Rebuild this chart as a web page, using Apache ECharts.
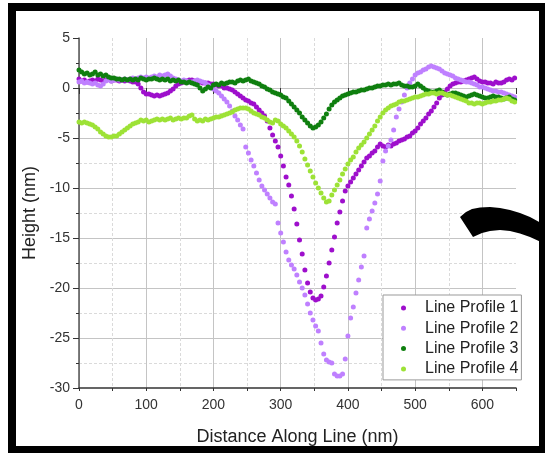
<!DOCTYPE html>
<html><head><meta charset="utf-8">
<script src="https://cdn.jsdelivr.net/npm/echarts@6/dist/echarts.min.js"></script>
<style>html,body{margin:0;padding:0;background:#fff}#c{width:545px;height:453px}</style>
</head><body><div id="c"></div>
<script>
// Distance along line (nm)
const distance = [0,4,8,12,16,20,24,28,32,36,40,44,48,52,56,60,64,68,72,76,80,84,88,92,96,100,104,108,112,116,120,124,128,132,136,140,144,148,152,156,160,164,168,172,176,180,184,188,192,196,200,204,208,212,216,220,224,228,232,236,240,244,248,252,256,260,264,268,272,276,280,284,288,292,296,300,304,308,312,316,320,324,328,332,336,340,344,348,352,356,360,364,368,372,376,380,384,388,392,396,400,404,408,412,416,420,424,428,432,436,440,444,448,452,456,460,464,468,472,476,480,484,488,492,496,500,504,508,512,516,520,524,528,532,536,540,544,548,552,556,560,564,568,572,576,580,584,588,592,596,600,604,608,612,616,620,624,628,632,636,640,644,648];

const profile1 = [0.9,0.7,0.8,0.6,0.7,0.8,0.7,0.9,0.8,0.7,0.8,0.9,0.7,0.8,0.8,0.7,0.8,0.7,0.8,0.7,0.6,0.6,0.4,0.0,-0.4,-0.6,-0.6,-0.7,-0.8,-0.7,-0.8,-0.7,-0.6,-0.5,-0.3,-0.1,0.2,0.4,0.5,0.6,0.7,0.8,0.8,0.7,0.6,0.6,0.5,0.5,0.5,0.4,0.4,0.3,0.2,0.2,0.0,0.0,-0.1,-0.2,-0.4,-0.6,-0.8,-1.0,-1.2,-1.3,-1.5,-1.6,-1.9,-2.2,-2.5,-2.8,-3.3,-4.0,-4.7,-5.3,-5.9,-6.8,-7.8,-8.9,-9.7,-10.8,-12.1,-13.6,-15.2,-16.6,-18.2,-19.5,-20.4,-21.0,-21.2,-21.1,-20.8,-19.9,-18.8,-17.5,-16.2,-14.9,-13.5,-12.4,-11.3,-10.3,-9.8,-9.4,-9.0,-8.6,-8.2,-7.8,-7.4,-7.0,-6.8,-6.5,-6.3,-5.9,-5.6,-5.8,-5.9,-5.7,-5.8,-5.6,-5.5,-5.3,-5.2,-5.1,-4.9,-4.8,-4.5,-4.3,-4.0,-3.6,-3.3,-3.0,-2.6,-2.3,-1.9,-1.5,-1.0,-0.7,-0.4,-0.1,0.2,0.4,0.5,0.6,0.6,0.7,0.8,0.9,1.0,1.1,0.9,0.7,0.6,0.6,0.5,0.5,0.4,0.6,0.5,0.5,0.6,0.8,0.9,0.8,1.0];

const profile2 = [0.6,0.7,0.5,0.6,0.5,0.4,0.5,0.3,0.2,0.4,0.7,0.8,0.7,0.8,0.9,0.8,0.8,0.9,0.8,0.9,1.0,0.9,1.0,1.1,1.0,1.1,1.0,1.1,1.2,1.1,1.3,1.2,1.3,1.4,1.2,1.0,0.9,0.8,0.7,0.8,0.7,0.6,0.6,0.7,0.8,0.7,0.6,0.5,0.3,0.1,-0.1,-0.3,-0.5,-0.8,-1.1,-1.4,-1.8,-2.3,-2.8,-3.2,-3.7,-4.1,-5.9,-6.5,-7.2,-7.8,-8.5,-9.2,-9.8,-10.2,-10.6,-11.0,-11.4,-11.6,-13.5,-14.5,-15.4,-16.4,-17.2,-17.7,-18.1,-18.7,-19.4,-20.0,-20.7,-21.6,-22.5,-23.2,-23.8,-24.3,-25.5,-26.6,-27.2,-27.4,-27.5,-28.6,-28.8,-28.8,-28.6,-27.1,-24.8,-23.0,-21.9,-20.5,-19.2,-17.9,-16.8,-14.0,-13.1,-12.3,-11.5,-10.6,-9.3,-7.3,-6.3,-5.8,-5.2,-4.2,-2.9,-2.1,-1.4,-0.7,0.0,0.5,0.9,1.3,1.5,1.6,1.8,1.9,2.1,2.2,2.1,2.0,1.9,1.7,1.5,1.4,1.3,1.2,1.0,0.9,0.8,0.7,0.6,0.6,0.5,0.4,0.3,0.1,0.1,0.0,-0.1,-0.2,-0.3,-0.3,-0.4,-0.4,-0.5,-0.6,-0.7,-0.8,-0.9];

const profile3 = [1.8,1.6,1.4,1.5,1.3,1.4,1.6,1.3,1.4,1.2,1.3,1.1,1.0,1.0,0.9,0.9,0.8,0.9,0.8,0.9,0.8,0.9,0.8,1.0,0.9,0.8,0.9,0.9,1.0,0.9,0.8,0.9,0.8,0.9,0.7,0.8,0.7,0.8,0.6,0.6,0.5,0.6,0.5,0.4,0.3,0.0,-0.3,-0.1,0.1,0.0,0.3,0.4,0.3,0.5,0.4,0.5,0.6,0.6,0.5,0.7,0.8,0.7,0.8,0.9,0.7,0.6,0.5,0.4,0.2,0.1,-0.1,-0.2,-0.4,-0.5,-0.6,-0.7,-0.9,-1.0,-1.3,-1.6,-1.9,-2.2,-2.5,-2.9,-3.2,-3.5,-3.8,-4.0,-3.9,-3.7,-3.4,-3.0,-2.6,-2.1,-1.7,-1.4,-1.2,-1.0,-0.8,-0.7,-0.6,-0.5,-0.4,-0.4,-0.3,-0.2,-0.2,-0.1,0.0,0.0,0.1,0.2,0.2,0.3,0.3,0.4,0.3,0.4,0.4,0.5,0.3,0.2,0.2,0.1,0.1,0.2,0.4,0.2,0.0,-0.2,-0.3,-0.4,-0.4,-0.3,-0.2,-0.4,-0.6,-0.7,-0.6,-0.5,-0.5,-0.6,-0.7,-0.8,-0.9,-0.8,-0.7,-0.6,-0.7,-0.8,-0.9,-1.0,-1.0,-0.9,-0.8,-0.9,-0.9,-1.0,-1.1,-1.0,-0.9,-1.1,-1.2];

const profile4 = [-3.4,-3.5,-3.4,-3.5,-3.6,-3.7,-3.9,-4.1,-4.4,-4.6,-4.8,-4.9,-4.9,-4.8,-4.8,-4.6,-4.4,-4.2,-4.0,-3.8,-3.6,-3.5,-3.4,-3.2,-3.3,-3.2,-3.4,-3.3,-3.2,-3.1,-3.2,-3.1,-3.2,-3.1,-3.0,-3.2,-3.1,-3.0,-3.1,-3.0,-3.0,-2.8,-2.7,-3.1,-3.3,-3.2,-3.3,-3.1,-3.2,-3.1,-3.0,-2.9,-2.9,-2.8,-2.7,-2.6,-2.5,-2.4,-2.2,-2.1,-2.0,-2.0,-2.0,-2.1,-2.3,-2.5,-2.6,-2.7,-2.9,-3.0,-3.2,-3.4,-3.5,-3.2,-3.3,-3.6,-3.8,-4.0,-4.3,-4.6,-4.9,-5.3,-5.8,-6.4,-7.1,-7.7,-8.3,-8.9,-9.5,-10.0,-10.5,-11.0,-11.4,-11.3,-10.7,-10.2,-9.7,-9.2,-8.6,-8.1,-7.6,-7.2,-6.9,-6.4,-6.0,-5.7,-5.4,-5.0,-4.6,-4.2,-3.8,-3.3,-2.9,-2.5,-2.2,-2.0,-1.8,-1.7,-1.6,-1.4,-1.3,-1.3,-1.2,-1.1,-1.0,-0.9,-0.9,-0.8,-0.7,-0.6,-0.6,-0.5,-0.5,-0.6,-0.5,-0.5,-0.6,-0.7,-0.7,-0.8,-0.9,-1.0,-1.1,-1.2,-1.3,-1.5,-1.5,-1.6,-1.5,-1.5,-1.6,-1.5,-1.4,-1.4,-1.3,-1.3,-1.2,-1.2,-1.1,-1.0,-1.1,-1.3,-1.4];

const seriesNames = ['Line Profile 1', 'Line Profile 2', 'Line Profile 3', 'Line Profile 4'];
const seriesColors = ['#9e0fcc', '#bf80ff', '#0f7f0f', '#9de236'];
const profiles = [profile1, profile2, profile3, profile4];

const chart = echarts.init(document.getElementById('c'), null, {renderer: 'canvas'});
const font = 'Liberation Sans, Arial, sans-serif';

const option = {
  animation: false,
  backgroundColor: '#fff',
  textStyle: {fontFamily: font},
  grid: {left: 79, right: 29, top: 38, bottom: 65, containLabel: false},
  xAxis: [{
    type: 'value', min: 0, max: 650, interval: 50, position: 'bottom',
    axisLine: {show: true, onZero: false, lineStyle: {color: '#333', width: 1.5}},
    axisTick: {show: true, inside: false, length: 3, lineStyle: {color: '#333'}},
    splitLine: {show: true, showMaxLine: false, lineStyle: {color: '#dadada', type: [3, 2], width: 1}},
    axisLabel: {fontSize: 14, color: '#333', margin: 10, fontFamily: font,
      formatter: v => (v % 100 === 0 ? String(v) : '')},
    name: 'Distance Along Line (nm)', nameLocation: 'middle', nameGap: 40,
    nameTextStyle: {fontSize: 18, color: '#222', fontFamily: font}
  }, {
    type: 'value', min: 0, max: 650, interval: 100, position: 'bottom',
    axisLine: {show: false},
    axisTick: {show: true, inside: false, length: 6, lineStyle: {color: '#333'}},
    splitLine: {show: true, showMaxLine: false, lineStyle: {color: '#c4c4c4', width: 1}},
    axisLabel: {show: false}
  }],
  yAxis: {
    type: 'value', min: -30, max: 5, interval: 5,
    axisLine: {show: true, onZero: false, lineStyle: {color: '#555', width: 1.5}},
    axisTick: {show: true, inside: false, length: 6, lineStyle: {color: '#333'}},
    minorTick: {show: true, splitNumber: 2, length: 3, lineStyle: {color: '#333'}},
    splitLine: {show: true, showMaxLine: false, showMinLine: false, lineStyle: {color: '#c4c4c4', width: 1}},
    minorSplitLine: {show: true, lineStyle: {color: '#dadada', type: [3, 2], width: 1}},
    axisLabel: {fontSize: 14, color: '#333', margin: 9, fontFamily: font},
    name: 'Height (nm)', nameLocation: 'middle', nameGap: 29,
    nameTextStyle: {fontSize: 18, color: '#222', fontFamily: font}
  },
  legend: {
    orient: 'vertical', left: 383, top: 295,
    backgroundColor: '#fff', borderColor: '#999', borderWidth: 1, borderRadius: 0,
    padding: [3, 3, 1, 18], itemGap: 0.3, itemWidth: 5, itemHeight: 5,
    icon: 'circle',
    textStyle: {fontSize: 16, color: '#222', lineHeight: 20, fontFamily: font, padding: [0, 0, 0, 14]},
    data: seriesNames
  },
  series: profiles.map((p, k) => ({
    name: seriesNames[k], type: 'scatter', xAxisIndex: 0,
    symbol: 'circle', symbolSize: 5,
    itemStyle: {color: seriesColors[k], opacity: 1},
    emphasis: {disabled: true},
    data: distance.map((d, i) => [d, p[i]])
  })),
  graphic: [
    {type: 'rect', z: 200, silent: true,
     shape: {x: 12, y: 7, width: 531, height: 443},
     style: {fill: null, stroke: '#000', lineWidth: 8}},
    {type: 'polygon', z: 200, silent: true,
     shape: {points: [[460,217],[466,212],[472,209],[480,207.5],[490,207],[500,208],[510,210],[520,213],[530,217],[541,223],
                      [541,242],[530,237],[520,233.5],[510,231],[500,230],[490,231],[482,233],[473,237]]},
     style: {fill: '#000'}}
  ]
};
chart.setOption(option);
</script></body></html>
